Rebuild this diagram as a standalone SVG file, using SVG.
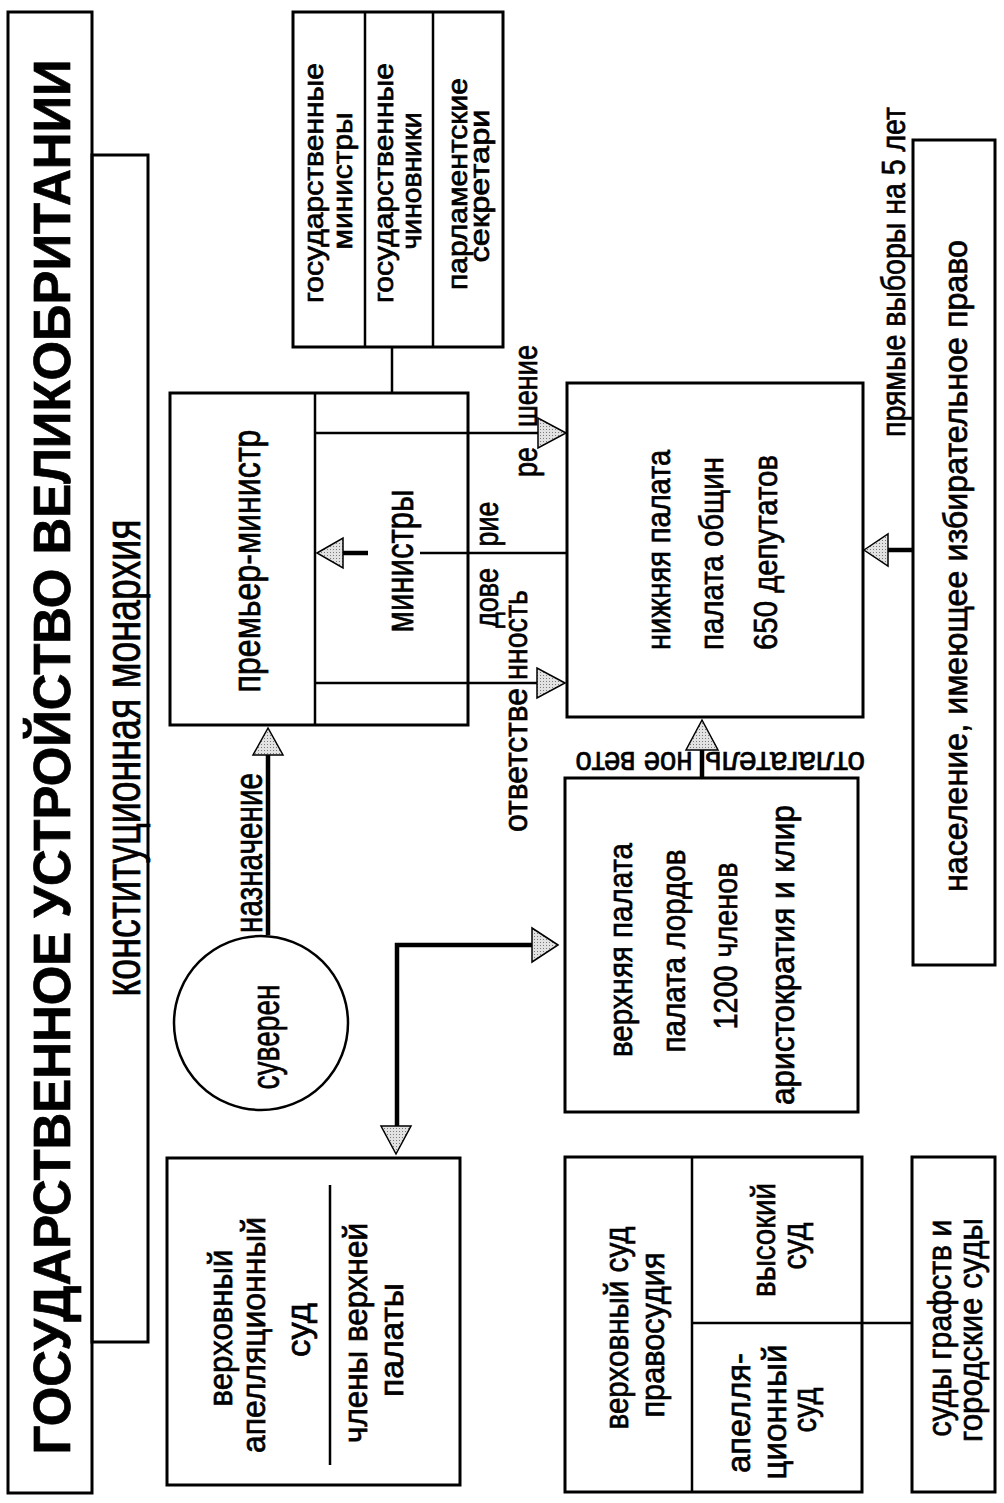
<svg xmlns="http://www.w3.org/2000/svg" width="1004" height="1503" viewBox="0 0 1004 1503">
<defs>
<pattern id="stip" width="3" height="3" patternUnits="userSpaceOnUse"><rect width="3" height="3" fill="#e2e2e2"/><rect width="1" height="1" fill="#7a7a7a"/></pattern>
<style>
.box{fill:none;stroke:#000;stroke-width:3}
.ln{fill:none;stroke:#000;stroke-width:2.5}
.th{fill:none;stroke:#000;stroke-width:4.5}
.ah{fill:url(#stip);stroke:#000;stroke-width:1.5;stroke-linejoin:miter}
text{font-family:"Liberation Sans",Arial,sans-serif;fill:#000;stroke:#000;stroke-width:0.7}
.b{font-size:34px}
.m{font-size:38px}
.s{font-size:28px}
</style>
</defs>
<rect width="1004" height="1503" fill="#fff"/>

<g id="title">
<rect class="box" x="8" y="12" width="84" height="1481" stroke-width="3.5"/>
<text transform="translate(70,757) rotate(-90)" text-anchor="middle" font-size="52" font-weight="bold" textLength="1395" lengthAdjust="spacingAndGlyphs">ГОСУДАРСТВЕННОЕ УСТРОЙСТВО ВЕЛИКОБРИТАНИИ</text>
</g>

<g id="monarchy">
<rect class="box" x="92" y="155" width="56" height="1187"/>
<text transform="translate(140,758) rotate(-90)" text-anchor="middle" font-size="50" textLength="477" lengthAdjust="spacingAndGlyphs">конституционная монархия</text>
</g>

<g id="cabinet">
<rect class="box" x="293" y="12" width="210" height="335"/>
<line class="ln" x1="365" y1="12" x2="365" y2="347"/>
<line class="ln" x1="433" y1="12" x2="433" y2="347"/>
<text class="s" transform="translate(323,183) rotate(-90)" text-anchor="middle" textLength="240" lengthAdjust="spacingAndGlyphs">государственные</text>
<text class="s" transform="translate(352,181) rotate(-90)" text-anchor="middle" textLength="137" lengthAdjust="spacingAndGlyphs">министры</text>
<text class="s" transform="translate(393,183) rotate(-90)" text-anchor="middle" textLength="240" lengthAdjust="spacingAndGlyphs">государственные</text>
<text class="s" transform="translate(421,181) rotate(-90)" text-anchor="middle" textLength="137" lengthAdjust="spacingAndGlyphs">чиновники</text>
<text class="s" transform="translate(467,184) rotate(-90)" text-anchor="middle" textLength="212" lengthAdjust="spacingAndGlyphs">парламентские</text>
<text class="s" transform="translate(489,186) rotate(-90)" text-anchor="middle" textLength="153" lengthAdjust="spacingAndGlyphs">секретари</text>
</g>

<g id="pm">
<rect class="box" x="170" y="393" width="298" height="332"/>
<line class="ln" x1="315" y1="393" x2="315" y2="725"/>
<text class="m" transform="translate(260,561) rotate(-90)" text-anchor="middle" textLength="263" lengthAdjust="spacingAndGlyphs">премьер-министр</text>
<text class="m" transform="translate(413,561) rotate(-90)" text-anchor="middle" textLength="143" lengthAdjust="spacingAndGlyphs">министры</text>
</g>

<g id="sovereign">
<circle cx="261" cy="1023" r="87" fill="none" stroke="#000" stroke-width="2.5"/>
<text class="m" transform="translate(279,1037) rotate(-90)" text-anchor="middle" textLength="105" lengthAdjust="spacingAndGlyphs">суверен</text>
</g>

<g id="commons">
<rect class="box" x="567" y="383" width="296" height="334"/>
<text class="b" transform="translate(670,650) rotate(-90)" textLength="200" lengthAdjust="spacingAndGlyphs">нижняя палата</text>
<text class="b" transform="translate(723,650) rotate(-90)" textLength="193" lengthAdjust="spacingAndGlyphs">палата общин</text>
<text class="b" transform="translate(777,650) rotate(-90)" textLength="195" lengthAdjust="spacingAndGlyphs">650 депутатов</text>
</g>

<g id="lords">
<rect class="box" x="565" y="778" width="293" height="334"/>
<text class="b" transform="translate(632,950) rotate(-90)" text-anchor="middle" textLength="214" lengthAdjust="spacingAndGlyphs">верхняя палата</text>
<text class="b" transform="translate(685,951) rotate(-90)" text-anchor="middle" textLength="203" lengthAdjust="spacingAndGlyphs">палата лордов</text>
<text class="b" transform="translate(737,946) rotate(-90)" text-anchor="middle" textLength="167" lengthAdjust="spacingAndGlyphs">1200 членов</text>
<text class="b" transform="translate(794,955) rotate(-90)" text-anchor="middle" textLength="300" lengthAdjust="spacingAndGlyphs">аристократия и клир</text>
</g>

<g id="appellate">
<rect class="box" x="167" y="1158" width="293" height="327"/>
<line class="ln" x1="330" y1="1185" x2="330" y2="1465" stroke-width="3.5"/>
<text class="b" transform="translate(232,1328) rotate(-90)" text-anchor="middle" textLength="157" lengthAdjust="spacingAndGlyphs">верховный</text>
<text class="b" transform="translate(265,1335) rotate(-90)" text-anchor="middle" textLength="236" lengthAdjust="spacingAndGlyphs">апелляционный</text>
<text class="b" transform="translate(310,1330) rotate(-90)" text-anchor="middle" textLength="54" lengthAdjust="spacingAndGlyphs">суд</text>
<text class="b" transform="translate(367,1333) rotate(-90)" text-anchor="middle" textLength="220" lengthAdjust="spacingAndGlyphs">члены верхней</text>
<text class="b" transform="translate(403,1340) rotate(-90)" text-anchor="middle" textLength="114" lengthAdjust="spacingAndGlyphs">палаты</text>
</g>

<g id="courts">
<rect class="box" x="565" y="1157" width="297" height="335"/>
<line class="ln" x1="692" y1="1157" x2="692" y2="1492"/>
<line class="ln" x1="692" y1="1323" x2="862" y2="1323"/>
<text class="b" transform="translate(628,1328) rotate(-90)" text-anchor="middle" textLength="203" lengthAdjust="spacingAndGlyphs">верховный суд</text>
<text class="b" transform="translate(664,1335) rotate(-90)" text-anchor="middle" textLength="165" lengthAdjust="spacingAndGlyphs">правосудия</text>
<text class="b" transform="translate(775,1240) rotate(-90)" text-anchor="middle" textLength="114" lengthAdjust="spacingAndGlyphs">высокий</text>
<text class="b" transform="translate(806,1246) rotate(-90)" text-anchor="middle" textLength="47" lengthAdjust="spacingAndGlyphs">суд</text>
<text class="b" transform="translate(750,1413) rotate(-90)" text-anchor="middle" textLength="120" lengthAdjust="spacingAndGlyphs">апелля-</text>
<text class="b" transform="translate(786,1412) rotate(-90)" text-anchor="middle" textLength="135" lengthAdjust="spacingAndGlyphs">ционный</text>
<text class="b" transform="translate(816,1410) rotate(-90)" text-anchor="middle" textLength="45" lengthAdjust="spacingAndGlyphs">суд</text>
</g>

<g id="local-courts">
<rect class="box" x="912" y="1157" width="83" height="335"/>
<text class="b" transform="translate(951,1328) rotate(-90)" text-anchor="middle" textLength="217" lengthAdjust="spacingAndGlyphs">суды графств и</text>
<text class="b" transform="translate(982,1330) rotate(-90)" text-anchor="middle" textLength="224" lengthAdjust="spacingAndGlyphs">городские суды</text>
</g>

<g id="population">
<rect class="box" x="913" y="140" width="82" height="825"/>
<text class="b" transform="translate(967,566) rotate(-90)" text-anchor="middle" textLength="652" lengthAdjust="spacingAndGlyphs">население, имеющее избирательное право</text>
</g>

<g id="connectors">
<line class="ln" x1="392" y1="347" x2="392" y2="393"/>
<line class="ln" x1="315" y1="433" x2="540" y2="433"/>
<polygon class="ah" points="566,433 538,418 538,448"/>
<line class="ln" x1="315" y1="683" x2="539" y2="683"/>
<polygon class="ah" points="565,683 537,668 537,698"/>
<line class="ln" x1="567" y1="553" x2="420" y2="553"/>
<line class="th" x1="368" y1="553" x2="340" y2="553"/>
<polygon class="ah" points="317,553 343,538 343,568"/>
<line class="th" x1="268" y1="935" x2="268" y2="753" stroke-width="3.5"/>
<polygon class="ah" points="268,728 253,755 283,755"/>
<line class="th" x1="702" y1="778" x2="702" y2="748"/>
<polygon class="ah" points="702,720 686,750 718,750"/>
<polyline class="th" points="397,1128 397,945 534,945"/>
<polygon class="ah" points="558,945 532,928 532,962"/>
<polygon class="ah" points="396,1154 381,1126 411,1126"/>
<line class="th" x1="912" y1="550" x2="886" y2="550"/>
<polygon class="ah" points="864,550 888,534 888,566"/>
<line class="ln" x1="862" y1="1323" x2="912" y2="1323"/>
</g>

<g id="labels">
<text class="m" transform="translate(262,853) rotate(-90)" text-anchor="middle" textLength="160" lengthAdjust="spacingAndGlyphs">назначение</text>
<text class="b" transform="translate(537,462) rotate(-90)" text-anchor="middle" textLength="30" lengthAdjust="spacingAndGlyphs">ре</text>
<text class="b" transform="translate(537,386) rotate(-90)" text-anchor="middle" textLength="82" lengthAdjust="spacingAndGlyphs">шение</text>
<text class="b" transform="translate(498,598) rotate(-90)" text-anchor="middle" textLength="60" lengthAdjust="spacingAndGlyphs">дове</text>
<text class="b" transform="translate(498,524) rotate(-90)" text-anchor="middle" textLength="45" lengthAdjust="spacingAndGlyphs">рие</text>
<text class="b" transform="translate(527,760) rotate(-90)" text-anchor="middle" textLength="144" lengthAdjust="spacingAndGlyphs">ответстве</text>
<text class="b" transform="translate(527,635) rotate(-90)" text-anchor="middle" textLength="90" lengthAdjust="spacingAndGlyphs">нность</text>
<text class="b" transform="translate(785,752) rotate(180)" text-anchor="middle" textLength="160" lengthAdjust="spacingAndGlyphs">отлагатель</text>
<text class="b" transform="translate(634,752) rotate(180)" text-anchor="middle" textLength="117" lengthAdjust="spacingAndGlyphs">ное вето</text>
<text class="b" transform="translate(905,272) rotate(-90)" text-anchor="middle" textLength="330" lengthAdjust="spacingAndGlyphs">прямые выборы на 5 лет</text>
</g>
</svg>
